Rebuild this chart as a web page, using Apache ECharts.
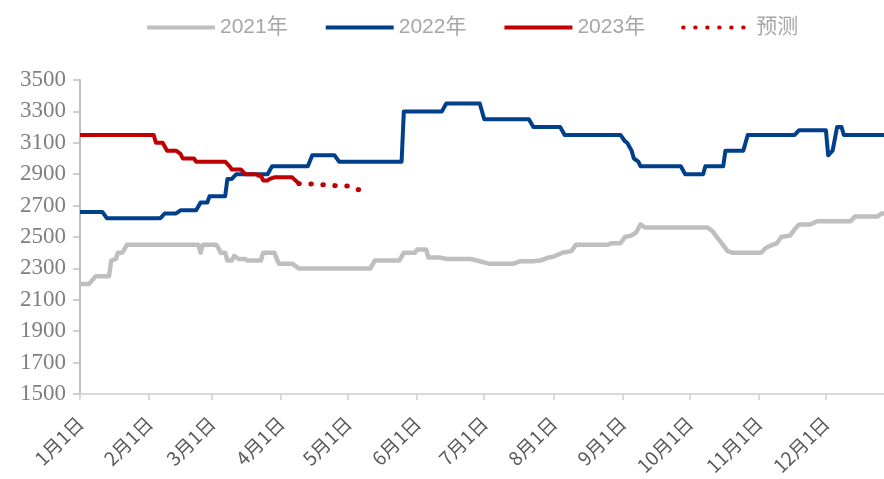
<!DOCTYPE html>
<html>
<head>
<meta charset="utf-8">
<title>price</title>
<script src="https://cdn.jsdelivr.net/npm/echarts@6/dist/echarts.min.js"></script>
<style>
  html, body { margin: 0; padding: 0; background: #fff; }
  #chart { width: 884px; height: 479px; }
</style>
</head>
<body>
<div id="chart"></div>
<script>
// 月份天数，用来生成每天的类目（1月1日 ... 12月27日）
const monthDays = [31, 28, 31, 30, 31, 30, 31, 31, 30, 31, 30, 31]
const dayCount = 361

const yTicks = { min: 1500, max: 3500, step: 200 }
const legendNames = ['2021年', '2022年', '2023年', '预测']

// [第几天(从1月1日起算), 价格]
const data2021 = [
    [0, 2200], [4, 2200], [7, 2250], [13, 2250], [14, 2350], [16, 2360], [17, 2400], [19, 2400],
    [21, 2450], [53, 2450], [54, 2400], [55, 2450], [61, 2450], [62, 2430], [63, 2400], [65, 2400],
    [66, 2350], [68, 2350], [69, 2380], [71, 2360], [74, 2360], [75, 2350], [81, 2350], [82, 2400],
    [87, 2400], [89, 2330], [95, 2330], [98, 2300], [130, 2300], [132, 2350], [143, 2350], [145, 2400],
    [150, 2400], [151, 2420], [155, 2420], [156, 2370], [161, 2370], [164, 2360], [175, 2360],
    [183, 2330], [194, 2330], [197, 2345], [203, 2345], [206, 2350], [210, 2370], [212, 2375],
    [216, 2400], [220, 2410], [222, 2450], [236, 2450], [238, 2460], [242, 2460], [244, 2500],
    [247, 2510], [249, 2530], [251, 2580], [253, 2560], [281, 2560], [283, 2540], [290, 2410],
    [292, 2400], [305, 2400], [307, 2430], [310, 2450], [312, 2460], [314, 2500], [318, 2510],
    [320, 2550], [322, 2580], [327, 2580], [330, 2600], [345, 2600], [347, 2630], [357, 2630],
    [359, 2650], [360, 2650]
]
const data2022 = [
    [0, 2660], [10, 2660], [12, 2620], [36, 2620], [38, 2650], [43, 2650], [45, 2670], [52, 2670],
    [54, 2720], [57, 2720], [58, 2760], [65, 2760], [66, 2870], [68, 2870], [70, 2900], [84, 2900],
    [86, 2950], [102, 2950], [104, 3020], [114, 3020], [116, 2980], [144, 2980], [145, 3300],
    [162, 3300], [164, 3350], [179, 3350], [181, 3250], [201, 3250], [203, 3200], [215, 3200],
    [217, 3150], [242, 3150], [244, 3110], [245, 3100], [247, 3050], [248, 3000], [250, 2980],
    [251, 2950], [269, 2950], [271, 2900], [279, 2900], [280, 2950], [288, 2950], [289, 3050],
    [297, 3050], [299, 3150], [320, 3150], [322, 3180], [334, 3180], [335, 3020], [337, 3050],
    [339, 3200], [341, 3200], [342, 3150], [360, 3150]
]
const data2023 = [
    [0, 3150], [33, 3150], [34, 3100], [37, 3100], [39, 3050], [43, 3050], [45, 3030], [46, 3000],
    [51, 3000], [52, 2980], [65, 2980], [67, 2950], [68, 2930], [72, 2930], [74, 2900], [79, 2900],
    [80, 2890], [81, 2890], [82, 2860], [84, 2860], [85, 2870], [87, 2880], [95, 2880], [98, 2840]
]
const dataForecast = [
    [98, 2840], [104, 2838], [110, 2832], [116, 2825], [120, 2825], [125, 2800]
]

const colors = ['#BFBFBF', '#003F8A', '#C00000', '#C00000']

const categories = []
for (let m = 0; m < monthDays.length; m++) {
    for (let d = 1; d <= monthDays[m]; d++) {
        if (categories.length < dayCount) categories.push((m + 1) + '月' + d + '日')
    }
}
const isMonthStart = (idx, val) => /月1日$/.test(val)

const chartInstance = echarts.init(document.getElementById('chart'))
const option = {
    animation: false,
    backgroundColor: '#fff',
    color: colors,
    legend: {
        left: 140,
        top: 12,
        itemWidth: 68,
        itemHeight: 14,
        itemGap: 36,
        itemStyle: { opacity: 0 }, // 图例只要线，不要圆点
        lineStyle: { width: 4 },
        textStyle: {
            color: '#A6A6A6',
            fontSize: 21,
            fontFamily: 'Liberation Sans, Noto Sans CJK SC'
        },
        data: legendNames
    },
    grid: { left: 80, right: 0, top: 80, bottom: 85 },
    xAxis: {
        type: 'category',
        data: categories,
        boundaryGap: false,
        axisLine: { lineStyle: { color: '#D9D9D9', width: 2 } },
        axisTick: { interval: isMonthStart, length: 6, lineStyle: { color: '#D9D9D9', width: 2 } },
        axisLabel: {
            interval: isMonthStart,
            rotate: 45,
            margin: 26,
            color: '#595959',
            fontSize: 19,
            fontFamily: 'Noto Sans CJK SC'
        },
        splitLine: { show: false }
    },
    yAxis: {
        type: 'value',
        min: yTicks.min,
        max: yTicks.max,
        interval: yTicks.step,
        axisLine: { show: true, lineStyle: { color: '#BFBFBF', width: 2 } },
        axisTick: { show: true, length: 7, lineStyle: { color: '#BFBFBF', width: 1.5 } },
        axisLabel: {
            margin: 14,
            color: '#7F7F7F',
            fontSize: 23,
            fontFamily: 'Liberation Serif',
            formatter: v => String(v)
        },
        splitLine: { show: false }
    },
    series: [
        {
            name: legendNames[0], type: 'line', symbol: 'none', z: 2,
            lineStyle: { width: 4.5, color: colors[0], join: 'round' },
            data: data2021
        },
        {
            name: legendNames[1], type: 'line', symbol: 'none', z: 3,
            lineStyle: { width: 4, color: colors[1], join: 'round' },
            data: data2022
        },
        {
            name: legendNames[2], type: 'line', symbol: 'none', z: 4,
            lineStyle: { width: 4, color: colors[2], join: 'round' },
            data: data2023
        },
        {
            name: legendNames[3], type: 'line', symbol: 'none', z: 4,
            lineStyle: { width: 5, color: colors[3], type: [0.5, 11.5], cap: 'round' },
            data: dataForecast
        }
    ]
}
chartInstance.setOption(option)
</script>
</body>
</html>
